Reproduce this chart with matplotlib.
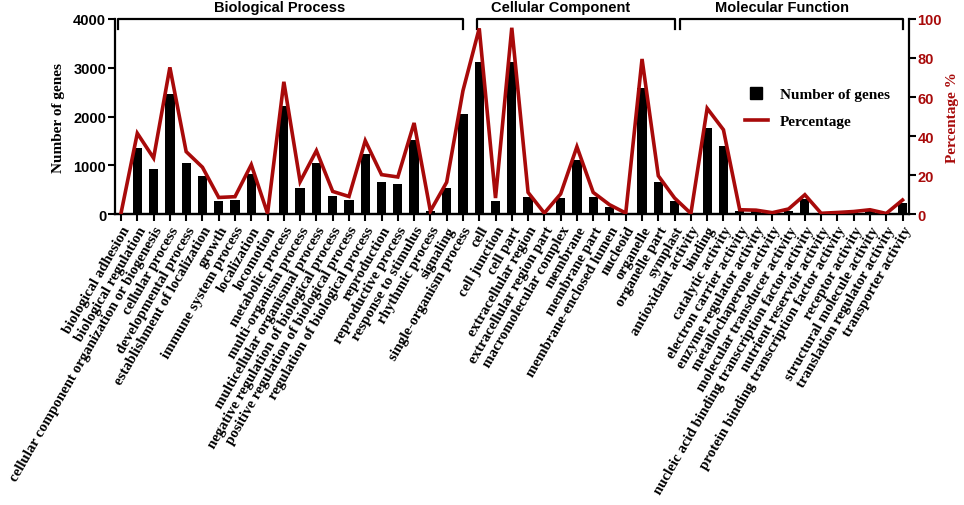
import matplotlib
matplotlib.use("Agg")
import matplotlib.pyplot as plt
from matplotlib.lines import Line2D
import numpy as np

bp = ["biological adhesion", "biological regulation",
      "cellular component organization or biogenesis", "cellular process",
      "developmental process", "establishment of localization", "growth",
      "immune system process", "localization", "locomotion", "metabolic process",
      "multi-organism process", "multicellular organismal process",
      "negative regulation of biological process",
      "positive regulation of biological process",
      "regulation of biological process", "reproduction", "reproductive process",
      "response to stimulus", "rhythmic process", "signaling",
      "single-organism process"]
cc = ["cell", "cell junction", "cell part", "extracellular region",
      "extracellular region part", "macromolecular complex", "membrane",
      "membrane part", "membrane-enclosed lumen", "nucleoid", "organelle",
      "organelle part", "symplast"]
mf = ["antioxidant activity", "binding", "catalytic activity",
      "electron carrier activity", "enzyme regulator activity",
      "metallochaperone activity", "molecular transducer activity",
      "nucleic acid binding transcription factor activity",
      "nutrient reservoir activity",
      "protein binding transcription factor activity", "receptor activity",
      "structural molecule activity", "translation regulator activity",
      "transporter activity"]

genes_bp = [30, 1345, 925, 2455, 1045, 775, 275, 285, 825, 10, 2210, 530, 1045,
            365, 290, 1230, 650, 620, 1520, 55, 535, 2045]
genes_cc = [3125, 265, 3125, 355, 10, 330, 1115, 350, 150, 15, 2580, 655, 265]
genes_mf = [5, 1755, 1400, 65, 60, 15, 65, 305, 5, 20, 40, 70, 5, 225]

pct_bp = [0.5, 41.4, 28.7, 75.2, 32.0, 24.0, 8.5, 8.9, 25.3, 0.3, 67.8, 16.6,
          32.5, 11.6, 9.0, 37.6, 20.2, 19.0, 46.7, 1.5, 16.3, 63.2]
pct_cc = [95.2, 8.2, 95.5, 11.1, 0.5, 10.3, 34.5, 11.1, 4.8, 0.5, 79.5, 19.6, 8.2]
pct_mf = [0.3, 54.2, 43.2, 2.2, 2.0, 0.7, 2.6, 9.9, 0.4, 0.8, 1.3, 2.2, 0.3, 7.2]

groups = ["Biological Process", "Cellular Component", "Molecular Function"]

cats = bp + cc + mf
genes = genes_bp + genes_cc + genes_mf
pct = pct_bp + pct_cc + pct_mf
x = np.arange(len(cats))

RED = "#A80A0A"
SERIF = "Liberation Serif"
SANS = "Liberation Sans"

fig = plt.figure(figsize=(9.64, 5.06), dpi=100)
ax = fig.add_axes([0.1188, 0.575, 0.943 - 0.1188, 0.9605 - 0.575])
ax2 = ax.twinx()

ax.bar(x, genes, width=0.57, color="black", zorder=2)
ax2.plot(x, pct, color=RED, lw=2.6, zorder=3, solid_joinstyle="miter")

ax.set_xlim(-0.4, len(cats) - 0.6)
ax.set_ylim(0, 4000)
ax2.set_ylim(0, 100)
ax.set_yticks([0, 1000, 2000, 3000, 4000])
ax2.set_yticks([0, 20, 40, 60, 80, 100])

ax2.patch.set_visible(False)

for a in (ax, ax2):
    a.spines["top"].set_visible(False)
    for s in a.spines.values():
        s.set_linewidth(1.6)
ax.spines["right"].set_visible(False)
ax2.spines["left"].set_visible(False)

ax.tick_params(axis="y", direction="out", length=5, width=1.5, pad=1,
               labelsize=10.5)
ax2.tick_params(axis="y", direction="out", length=5, width=1.5, pad=1,
                labelsize=10.5, labelcolor=RED)
for lab in ax.get_yticklabels():
    lab.set_fontfamily(SANS)
    lab.set_fontweight("bold")
for lab in ax2.get_yticklabels():
    lab.set_fontfamily(SANS)
    lab.set_fontweight("bold")

ax.set_xticks(x)
ax.set_xticklabels(cats, rotation=60, ha="right", rotation_mode="anchor",
                   fontfamily=SERIF, fontweight="bold", fontsize=10.7)
ax.tick_params(axis="x", direction="out", length=5, width=1.5, pad=2)

ax.set_ylabel("Number of genes", fontfamily=SERIF, fontweight="bold",
              fontsize=11, labelpad=6)
ax2.set_ylabel("Percentage %", fontfamily=SERIF, fontweight="bold",
               fontsize=11, color=RED, labelpad=3)

# group brackets
n1, n2 = len(bp), len(cc)
spans = [(-0.2, n1 - 1), (n1 - 0.15, n1 + n2 - 1), (n1 + n2 - 0.65, len(cats) - 1)]
title_x = [9.77, 26.97, 40.6]
for (a0, a1), g, tx in zip(spans, groups, title_x):
    ax.plot([a0, a0, a1, a1], [3800, 4000, 4000, 3800], color="black",
            lw=1.6, clip_on=False, zorder=5)
    ax.text(tx, 4100, g, ha="center", va="bottom", fontfamily=SANS,
            fontweight="bold", fontsize=10.5, clip_on=False)

handles = [Line2D([], [], marker="s", color="black", ls="none", markersize=8),
           Line2D([], [], color=RED, lw=2.6)]
leg = ax2.legend(handles, ["Number of genes", "Percentage"], frameon=False,
                 loc="upper left", bbox_to_anchor=(0.776, 0.72),
                 prop={"family": SERIF, "weight": "bold", "size": 11},
                 handlelength=1.5, labelspacing=0.9, handletextpad=0.8)

fig.savefig("out.png", dpi=100)
